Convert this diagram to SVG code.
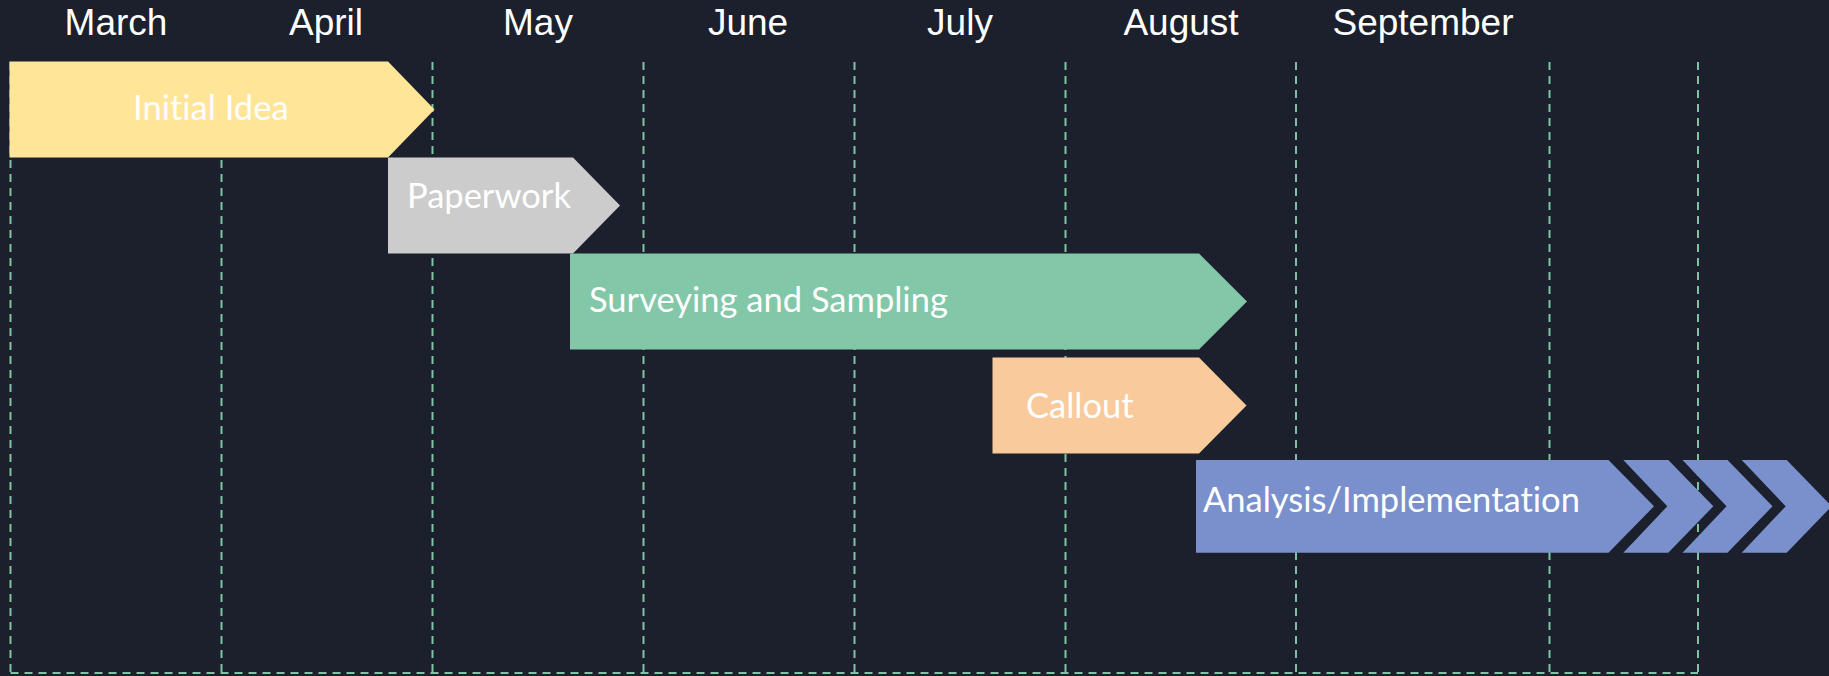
<svg xmlns="http://www.w3.org/2000/svg" width="1829" height="676" viewBox="0 0 1829 676">
<style>
.month{font-family:"Liberation Sans",Arial,sans-serif;font-size:37px;fill:#ffffff;text-anchor:middle}
.lbl{font-family:Lato,"Noto Sans",sans-serif;font-size:34.5px;fill:#ffffff;font-variant-ligatures:none}
.grid{stroke:#7ec4a2;stroke-width:2;stroke-dasharray:8 6;fill:none}
</style>
<rect x="0" y="0" width="1829" height="676" fill="#1b202c"/>
<g id="months">
<text class="month" x="116" y="35">March</text>
<text class="month" x="326" y="35">April</text>
<text class="month" x="538" y="35">May</text>
<text class="month" x="748" y="35">June</text>
<text class="month" x="960" y="35">July</text>
<text class="month" x="1181" y="35">August</text>
<text class="month" x="1423" y="35">September</text>
</g>
<g id="grid">
<line class="grid" x1="10.5" y1="62" x2="10.5" y2="673"/>
<line class="grid" x1="221.5" y1="62" x2="221.5" y2="673"/>
<line class="grid" x1="432.5" y1="62" x2="432.5" y2="673"/>
<line class="grid" x1="643.5" y1="62" x2="643.5" y2="673"/>
<line class="grid" x1="854.5" y1="62" x2="854.5" y2="673"/>
<line class="grid" x1="1065.5" y1="62" x2="1065.5" y2="673"/>
<line class="grid" x1="1296" y1="62" x2="1296" y2="673"/>
<line class="grid" x1="1549.5" y1="62" x2="1549.5" y2="673"/>
<line class="grid" x1="1698" y1="62" x2="1698" y2="673"/>
<line class="grid" x1="10.5" y1="673" x2="1698" y2="673"/>
</g>
<g id="initial-idea">
<polygon points="9.5,61.5 388,61.5 434.5,109.5 388,157.5 9.5,157.5" fill="#ffe597"/>
<text class="lbl" x="133" y="120">Initial Idea</text>
</g>
<g id="paperwork">
<polygon points="388,157.5 573,157.5 620,205.5 573,253.5 388,253.5" fill="#cccccc"/>
<text class="lbl" x="407" y="208">Paperwork</text>
</g>
<g id="surveying">
<polygon points="570,253.5 1199,253.5 1247,301.5 1199,349.5 570,349.5" fill="#82c7a7"/>
<text class="lbl" x="589" y="311.5">Surveying and Sampling</text>
</g>
<g id="callout">
<polygon points="992.5,357.5 1199,357.5 1246.5,405.5 1199,453.5 992.5,453.5" fill="#f9cb9c"/>
<text class="lbl" x="1026" y="417.5">Callout</text>
</g>
<g id="analysis">
<polygon points="1196,460 1608.5,460 1654,506.3 1608.5,552.7 1196,552.7" fill="#7990cd"/>
<polygon points="1623.3,460 1668.3,460 1713.3,506.3 1668.3,552.7 1623.3,552.7 1667.3,506.3" fill="#7990cd"/>
<polygon points="1682.5,460 1727.5,460 1772.5,506.3 1727.5,552.7 1682.5,552.7 1726.5,506.3" fill="#7990cd"/>
<polygon points="1741.7,460 1786.7,460 1831.7,506.3 1786.7,552.7 1741.7,552.7 1785.7,506.3" fill="#7990cd"/>
<text class="lbl" x="1203" y="511.7">Analysis/Implementation</text>
</g>
</svg>
